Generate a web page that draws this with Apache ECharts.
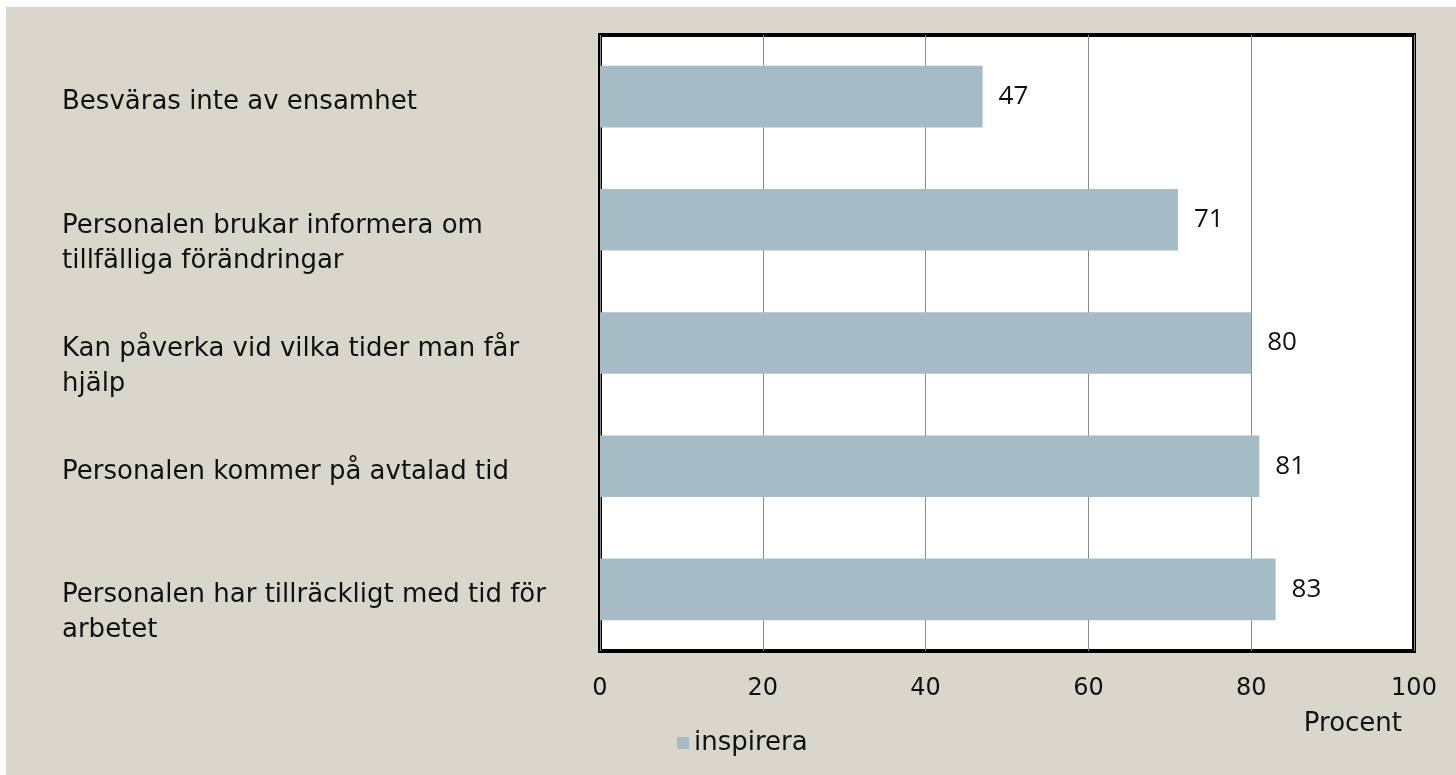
<!DOCTYPE html>
<html>
<head>
<meta charset="utf-8">
<script src="https://cdn.jsdelivr.net/npm/echarts@6/dist/echarts.min.js"></script>
<style>
html,body{margin:0;padding:0;background:#ffffff;}
#chart{position:absolute;left:6px;top:7px;width:1450px;height:768px;}
</style>
</head>
<body>
<div id="chart"></div>
<script>
const categories = [
  'Besväras inte av ensamhet',
  'Personalen brukar informera om\ntillfälliga förändringar',
  'Kan påverka vid vilka tider man får\nhjälp',
  'Personalen kommer på avtalad tid',
  'Personalen har tillräckligt med tid för\narbetet'
];
const values = [47, 71, 80, 81, 83];
const seriesName = 'inspirera';
const axisName = 'Procent';
const xTicks = [0, 20, 40, 60, 80, 100];

const chart = echarts.init(document.getElementById('chart'));
const labelFont = 'DejaVu Sans';
chart.setOption({
  backgroundColor: '#d9d7cb',
  animation: false,
  grid: {
    left: 594, right: 42, top: 28, bottom: 124,
    containLabel: false, outerBoundsMode: 'none',
    show: true, backgroundColor: '#ffffff',
    borderColor: '#000000', borderWidth: 4
  },
  legend: {
    data: [seriesName],
    left: 666, top: 718,
    icon: 'rect', itemWidth: 12, itemHeight: 12, itemGap: 10,
    textStyle: { fontFamily: labelFont, fontSize: 26, color: '#111' }
  },
  xAxis: {
    type: 'value', min: xTicks[0], max: xTicks[xTicks.length - 1], interval: 20,
    axisLine: { show: false }, axisTick: { show: false },
    splitLine: { show: true, lineStyle: { color: '#8a8a8a', width: 1 } },
    axisLabel: { margin: 26, fontFamily: labelFont, fontSize: 24, color: '#111' },
    name: axisName, nameLocation: 'end', nameGap: -12,
    nameTextStyle: { align: 'right', verticalAlign: 'top', padding: [60, 0, 0, 0],
      fontFamily: labelFont, fontSize: 26, color: '#111' }
  },
  yAxis: {
    type: 'category', inverse: true,
    data: categories,
    axisLine: { show: false }, axisTick: { show: false },
    splitLine: { show: false },
    axisLabel: {
      align: 'left', margin: 538, color: '#111',
      formatter: function (v) {
        const lines = v.split('\n');
        const pad = lines.length > 1 ? 'p2' : 'p1';
        return '{' + pad + '| }\n' + lines.map(l => '{t|' + l + '}').join('\n');
      },
      rich: {
        p1: { fontSize: 1, lineHeight: 12, height: 12, align: 'left' },
        p2: { fontSize: 1, lineHeight: 47, height: 47, align: 'left' },
        t: { fontFamily: labelFont, fontSize: 26, lineHeight: 35, color: '#111', align: 'left' }
      }
    }
  },
  series: [{
    name: seriesName, type: 'bar', data: values,
    barWidth: '50%',
    itemStyle: { color: '#a7bbc6' },
    label: { show: true, position: 'right', distance: 16,
      fontFamily: 'Open Sans', fontSize: 26, color: '#111' }
  }]
});
</script>
</body>
</html>
